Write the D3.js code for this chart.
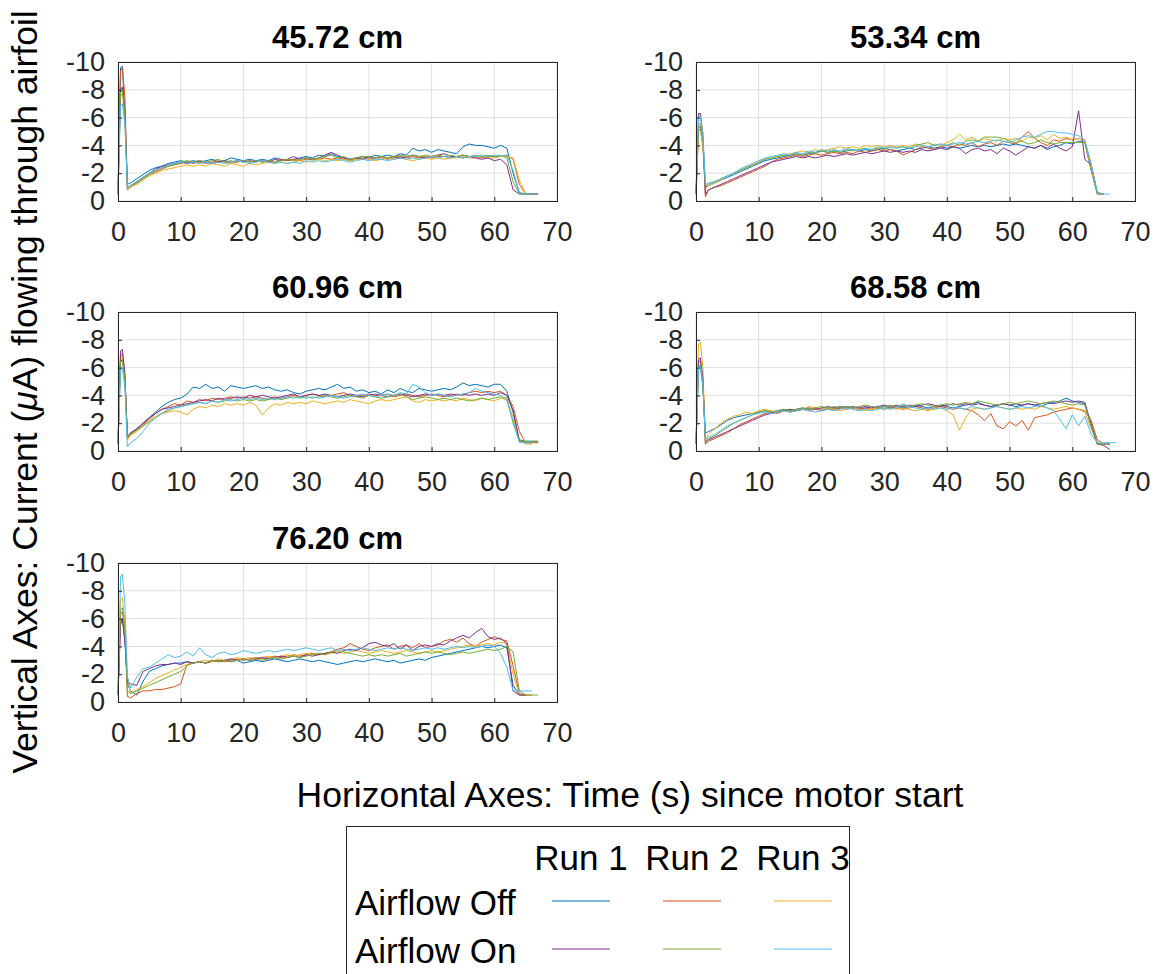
<!DOCTYPE html>
<html lang="en">
<head>
<meta charset="UTF-8">
<script src="https://cdn.jsdelivr.net/npm/d3@7"></script>
<title>Airfoil current vs time</title>
<style>
	body { margin: 0; background: #fff; }
	text { font-family: "Liberation Sans", Arial, sans-serif; }
	.tick text { fill: #262626; font-size: 27px; }
	.title { font-size: 31px; font-weight: bold; fill: #000; }
	.label { font-size: 35.5px; fill: #000; }
	.legend text { font-size: 35px; fill: #000; }
</style>
</head>
<body>
<script>
// sample times (s) shared by every run
const timeS = [0, 0.4, 0.7, 1.1, 1.5,
	2, 3, 4, 5, 6, 7, 8, 9, 10, 11, 12, 13, 14, 15, 16, 17, 18, 19, 20, 21,
	22, 23, 24, 25, 26, 27, 28, 29, 30, 31, 32, 33, 34, 35, 36, 37, 38, 39, 40, 41,
	42, 43, 44, 45, 46, 47, 48, 49, 50, 51, 52, 53, 54, 55, 56, 57, 58, 59, 60, 61,
	62, 63, 64, 65, 66, 67];

const titles = ["45.72 cm", "53.34 cm", "60.96 cm", "68.58 cm", "76.20 cm"];
const runNames = ["Run 1", "Run 2", "Run 3"];
const rowNames = ["Airflow Off", "Airflow On"];
const xTicks = [0, 10, 20, 30, 40, 50, 60, 70];
const yTicks = [0, -2, -4, -6, -8, -10];

// current in uA (null = run already stopped)
// --- 45.72 cm
const off1_4572 = [-0.5,-9.6,-9.7,-6,-1.2,
	-1.3,-1.6,-1.9,-2.2,-2.4,-2.5,-2.7,-2.8,-2.9,-2.8, -2.9,-2.8,-2.9,-3.0,-2.8,-2.9,-3.1,-3.0,-2.9,-3.0,
	-2.9,-3.0,-2.9,-3.1,-3.0,-2.9,-3.0,-3.1,-3.2,-3.1, -3.3,-3.2,-3.4,-3.2,-3.1,-3.0,-3.1,-3.2,-3.1,-3.3,
	-3.2,-3.3,-3.2,-3.4,-3.3,-3.8,-3.6,-3.7,-3.5,-3.7, -3.6,-3.5,-3.4,-3.9,-4.1,-4.0,-4.0,-3.9,-3.8,-4.0,
	-3.8,-2.0,-0.6,-0.5,-0.5,null];
const off2_4572 = [-0.5,-9.3,-9.6,-7.5,-0.8,
	-1.0,-1.3,-1.6,-1.9,-2.1,-2.3,-2.5,-2.6,-2.7,-2.8, -2.7,-2.8,-2.7,-2.8,-2.9,-2.8,-2.7,-2.8,-2.9,-2.8,
	-2.9,-2.8,-2.9,-2.8,-3.0,-2.9,-3.0,-2.9,-3.0,-3.0, -3.0,-3.1,-3.0,-3.1,-3.0,-2.9,-3.0,-3.1,-3.0,-3.1,
	-3.1,-3.0,-3.1,-3.2,-3.1,-3.2,-3.1,-3.2,-3.1,-3.2, -3.2,-3.1,-3.2,-3.3,-3.2,-3.2,-3.1,-3.2,-3.2,-3.2,
	-3.3,-3.0,-1.2,-0.5,-0.5,-0.5];
const off3_4572 = [-0.5,-7.5,-7.8,-5.8,-0.8,
	-1.0,-1.2,-1.5,-1.8,-2.0,-2.2,-2.3,-2.4,-2.5,-2.6, -2.5,-2.6,-2.5,-2.7,-2.6,-2.5,-2.7,-2.6,-2.5,-2.7,
	-2.6,-2.7,-2.8,-2.7,-2.8,-2.7,-2.8,-2.9,-2.8,-2.9, -3.0,-2.9,-3.0,-2.9,-3.0,-2.9,-3.0,-3.1,-3.0,-2.9,
	-3.0,-3.1,-3.0,-3.1,-3.0,-2.9,-3.0,-3.1,-3.0,-3.1, -3.0,-3.1,-3.1,-3.2,-3.1,-3.1,-3.2,-3.1,-3.1,-3.2,
	-3.2,-3.1,-1.5,-0.5,-0.5,-0.5];
const on1_4572 = [-0.5,-8.0,-8.2,-6.5,-0.9,
	-1.1,-1.4,-1.7,-2.0,-2.3,-2.5,-2.6,-2.7,-2.8,-2.7, -2.8,-2.9,-2.8,-2.7,-2.8,-2.9,-2.8,-2.9,-2.8,-2.9,
	-2.8,-2.9,-2.8,-3.0,-2.9,-3.0,-3.2,-3.0,-3.1,-3.0, -3.1,-3.3,-3.5,-3.3,-3.1,-3.0,-3.1,-3.0,-3.2,-3.1,
	-3.2,-3.1,-3.2,-3.1,-3.2,-3.3,-3.2,-3.1,-3.2,-3.3, -3.4,-3.2,-3.2,-3.1,-3.2,-3.1,-3.0,-3.1,-2.9,-3.0,
	-2.6,-0.8,-0.5,-0.5,-0.5,-0.5];
const on2_4572 = [-0.5,-7.8,-8.0,-6.2,-1.0,
	-1.1,-1.3,-1.6,-1.9,-2.2,-2.4,-2.5,-2.6,-2.8,-2.9, -2.8,-2.9,-2.8,-2.9,-3.0,-2.8,-2.9,-2.8,-2.9,-2.8,
	-2.9,-2.8,-2.9,-2.8,-2.9,-3.0,-2.9,-3.0,-3.1,-3.0, -3.1,-3.2,-3.3,-3.1,-3.2,-3.0,-3.1,-3.2,-3.2,-3.1,
	-3.2,-3.1,-3.2,-3.3,-3.2,-3.3,-3.2,-3.3,-3.2,-3.3, -3.2,-3.3,-3.2,-3.3,-3.2,-3.3,-3.2,-3.3,-3.2,-3.3,
	-3.1,-1.4,-0.5,-0.5,-0.5,null];
const on3_4572 = [-0.5,-6.8,-7.0,-5.5,-0.9,
	-1.1,-1.4,-1.7,-2.0,-2.2,-2.4,-2.6,-2.7,-2.8,-2.7, -2.8,-2.7,-2.8,-2.7,-2.8,-2.7,-2.8,-2.9,-2.8,-2.7,
	-2.8,-2.9,-2.8,-2.7,-2.8,-2.7,-2.8,-2.7,-2.9,-2.8, -2.9,-2.8,-2.9,-3.0,-2.9,-2.8,-2.9,-3.0,-2.9,-3.0,
	-3.0,-2.9,-3.0,-3.1,-3.0,-3.1,-3.0,-3.1,-3.2,-3.1, -3.2,-3.1,-3.2,-3.1,-3.2,-3.2,-3.3,-3.2,-3.3,-3.2,
	-3.3,-2.2,-0.6,-0.5,-0.5,-0.5];

// --- 53.34 cm
const off1_5334 = [-0.5,-5.0,-5.2,-4.0,-1.0,
	-1.1,-1.3,-1.5,-1.7,-1.9,-2.1,-2.3,-2.5,-2.7,-2.9, -3.0,-3.1,-3.2,-3.3,-3.4,-3.3,-3.4,-3.5,-3.6,-3.5,
	-3.6,-3.5,-3.6,-3.7,-3.6,-3.7,-3.6,-3.7,-3.8,-3.7, -3.6,-3.7,-3.8,-3.7,-3.8,-3.9,-3.8,-3.9,-3.8,-3.9,
	-3.8,-3.9,-4.0,-3.9,-4.0,-3.9,-4.0,-4.1,-4.0,-4.1, -4.0,-3.9,-3.8,-4.0,-3.7,-3.9,-4.0,-4.2,-4.1,-4.3,
	-4.2,-2.2,-0.5,-0.5,null,null];
const off2_5334 = [-0.5,-5.2,-5.4,-4.2,-0.3,
	-0.8,-1.0,-1.1,-1.3,-1.5,-1.7,-1.9,-2.1,-2.3,-2.5, -2.8,-3.0,-3.1,-3.2,-3.3,-3.2,-3.3,-3.4,-3.3,-3.4,
	-3.5,-3.4,-3.5,-3.4,-3.6,-3.5,-3.6,-3.7,-3.6,-3.7, -3.6,-3.3,-3.5,-3.7,-3.9,-3.8,-3.7,-3.9,-4.0,-3.9,
	-4.1,-4.0,-4.2,-3.9,-4.1,-4.2,-4.0,-4.3,-4.2,-4.1, -4.6,-5.0,-4.5,-4.2,-4.0,-4.4,-4.3,-4.5,-4.4,-4.5,
	-4.3,-2.4,-0.5,-0.5,null,null];
const off3_5334 = [-0.5,-5.0,-5.1,-4.0,-0.9,
	-1.1,-1.3,-1.5,-1.8,-2.0,-2.2,-2.4,-2.6,-2.8,-3.0, -3.1,-3.2,-3.3,-3.4,-3.5,-3.6,-3.5,-3.7,-3.6,-3.7,
	-3.8,-3.9,-3.8,-3.9,-3.8,-4.0,-3.9,-4.0,-3.9,-4.0, -3.9,-4.0,-3.9,-4.1,-4.0,-3.9,-4.1,-4.0,-4.2,-4.4,
	-4.8,-4.4,-4.6,-4.3,-4.5,-4.4,-4.3,-4.5,-4.4,-4.5, -4.3,-4.6,-4.5,-4.7,-4.4,-4.8,-4.5,-4.6,-4.4,-4.5,
	-4.3,-2.3,-0.5,-0.5,null,null];
const on1_5334 = [-0.5,-6.3,-6.3,-4.8,-0.5,
	-0.8,-1.0,-1.2,-1.4,-1.6,-1.8,-2.0,-2.2,-2.4,-2.6, -2.8,-2.9,-3.0,-3.1,-3.2,-3.1,-3.2,-3.1,-3.2,-3.3,
	-3.2,-3.3,-3.4,-3.3,-3.4,-3.5,-3.4,-3.5,-3.6,-3.5, -3.6,-3.5,-3.6,-3.5,-3.7,-3.6,-3.7,-3.8,-3.7,-3.9,
	-3.8,-3.4,-3.7,-3.8,-3.6,-3.7,-3.4,-3.8,-3.6,-3.3, -3.6,-3.9,-3.8,-4.0,-3.8,-4.1,-3.8,-3.6,-3.9,-6.5,
	-3.0,-2.6,-0.6,-0.5,null,null];
const on2_5334 = [-0.5,-5.5,-5.6,-4.4,-1.1,
	-1.2,-1.4,-1.6,-1.8,-2.0,-2.2,-2.4,-2.6,-2.8,-3.0, -3.1,-3.2,-3.3,-3.2,-3.4,-3.3,-3.5,-3.4,-3.6,-3.5,
	-3.6,-3.5,-3.7,-3.6,-3.7,-3.8,-3.7,-3.8,-3.7,-3.9, -3.8,-3.9,-3.8,-4.0,-4.1,-4.2,-4.0,-4.1,-4.0,-4.2,
	-4.0,-4.3,-4.4,-4.3,-4.6,-4.6,-4.6,-4.5,-4.3,-4.2, -4.3,-4.1,-4.2,-4.4,-4.2,-4.1,-4.2,-4.2,-4.2,-4.2,
	-4.2,-2.6,-0.6,-0.5,null,null];
const on3_5334 = [-0.5,-6.0,-6.1,-4.8,-1.2,
	-1.3,-1.4,-1.6,-1.8,-2.0,-2.3,-2.5,-2.7,-2.9,-3.1, -3.2,-3.3,-3.4,-3.3,-3.5,-3.4,-3.6,-3.5,-3.7,-3.6,
	-3.7,-3.6,-3.8,-3.7,-3.6,-3.8,-3.7,-3.9,-3.8,-3.9, -3.8,-3.9,-3.8,-3.9,-4.0,-3.9,-4.0,-4.1,-4.0,-4.1,
	-4.2,-4.1,-4.2,-4.3,-4.2,-4.3,-4.4,-4.3,-4.2,-4.4, -4.6,-4.7,-4.6,-4.8,-5.0,-5.0,-4.9,-4.9,-4.8,-4.7,
	-4.4,-2.7,-0.6,-0.5,-0.5,null];

// --- 60.96 cm
const off1_6096 = [-0.5,-6.4,-6.6,-5.0,-1.0,
	-1.3,-1.6,-2.0,-2.4,-2.8,-3.2,-3.5,-3.7,-3.8,-4.1, -4.6,-4.5,-4.8,-4.5,-4.6,-4.3,-4.7,-4.6,-4.5,-4.6,
	-4.7,-4.5,-4.6,-4.4,-4.3,-4.4,-4.2,-4.1,-4.3,-4.4, -4.5,-4.4,-4.6,-4.8,-4.5,-4.6,-4.3,-4.4,-4.2,-4.3,
	-4.1,-4.4,-4.2,-4.5,-4.3,-4.2,-4.5,-4.4,-4.3,-4.4, -4.5,-4.4,-4.6,-4.9,-4.7,-4.8,-4.7,-4.6,-4.8,-4.8,
	-4.3,-2.8,-0.8,-0.7,-0.7,-0.7];
const off2_6096 = [-0.5,-6.8,-7.0,-5.4,-0.9,
	-1.2,-1.5,-1.9,-2.3,-2.7,-3.0,-3.2,-3.4,-3.3,-3.6, -3.5,-3.7,-3.6,-3.8,-3.7,-3.8,-3.9,-3.8,-3.9,-3.8,
	-3.9,-3.8,-3.7,-3.9,-3.8,-3.9,-4.0,-3.9,-4.0,-4.1, -4.0,-3.9,-4.0,-4.1,-4.2,-4.0,-3.9,-4.0,-4.1,-4.0,
	-4.0,-4.1,-3.9,-4.0,-4.1,-4.0,-3.9,-4.0,-4.1,-4.0, -3.9,-4.0,-4.1,-4.0,-4.2,-4.3,-4.2,-4.3,-4.2,-4.3,
	-4.0,-3.2,-1.4,-0.6,-0.6,-0.6];
const off3_6096 = [-0.5,-6.6,-6.8,-5.2,-0.8,
	-1.1,-1.4,-1.8,-2.2,-2.5,-2.7,-2.8,-2.9,-2.8,-2.6, -3.0,-3.2,-3.1,-3.3,-3.2,-3.4,-3.3,-3.4,-3.3,-3.5,
	-3.3,-2.6,-3.1,-3.4,-3.3,-3.5,-3.4,-3.5,-3.4,-3.6, -3.5,-3.4,-3.5,-3.6,-3.5,-3.7,-3.6,-3.5,-3.4,-3.6,
	-3.7,-3.6,-3.7,-3.8,-3.9,-3.6,-3.5,-3.7,-3.6,-3.7, -3.6,-3.7,-3.6,-3.8,-3.7,-3.6,-3.8,-3.7,-3.6,-3.8,
	-3.7,-2.4,-0.8,-0.5,-0.5,null];
const on1_6096 = [-0.5,-7.2,-7.3,-5.6,-1.0,
	-1.3,-1.6,-2.0,-2.4,-2.7,-3.0,-3.1,-3.2,-3.3,-3.4, -3.5,-3.6,-3.7,-3.6,-3.8,-3.7,-3.8,-3.9,-3.8,-4.0,
	-3.9,-4.0,-3.9,-3.8,-3.9,-4.0,-4.1,-3.9,-4.0,-4.1, -4.0,-4.1,-4.0,-3.9,-4.0,-4.1,-4.0,-3.9,-4.0,-4.1,
	-4.0,-3.9,-4.0,-4.1,-4.0,-3.9,-4.0,-4.1,-4.0,-4.1, -4.0,-4.1,-4.0,-4.1,-4.0,-4.1,-4.0,-4.1,-4.0,-4.2,
	-4.0,-2.9,-0.7,-0.6,-0.6,null];
const on2_6096 = [-0.5,-6.4,-6.5,-5.2,-1.0,
	-1.2,-1.5,-1.8,-2.1,-2.4,-2.7,-2.9,-3.1,-3.2,-3.3, -3.4,-3.5,-3.4,-3.6,-3.5,-3.6,-3.7,-3.6,-3.7,-3.6,
	-3.7,-3.6,-3.7,-3.8,-3.7,-3.8,-3.9,-3.8,-3.9,-3.8, -3.9,-4.0,-3.9,-3.8,-3.9,-4.0,-3.9,-3.8,-4.0,-3.9,
	-3.8,-3.9,-4.0,-4.1,-3.9,-3.7,-3.8,-3.9,-3.8,-3.7, -3.8,-3.7,-3.8,-3.7,-3.6,-3.7,-3.8,-3.7,-3.8,-3.9,
	-3.8,-2.0,-0.7,-0.7,-0.7,-0.7];
const on3_6096 = [-0.5,-5.8,-6.0,-4.6,-0.3,
	-0.6,-0.9,-1.4,-2.0,-2.4,-2.7,-3.0,-3.1,-3.2,-3.3, -3.4,-3.5,-3.4,-3.6,-3.5,-3.7,-3.6,-3.7,-3.8,-3.7,
	-3.8,-3.7,-3.8,-3.7,-3.8,-3.9,-3.8,-3.9,-3.8,-3.9, -3.8,-3.9,-4.0,-3.9,-3.8,-3.9,-4.0,-4.1,-4.0,-3.9,
	-4.0,-4.1,-4.0,-4.2,-4.1,-4.8,-4.6,-4.2,-4.0,-4.1, -4.0,-3.9,-4.0,-4.1,-4.2,-4.5,-4.3,-4.2,-4.1,-4.0,
	-3.6,-2.2,-0.6,-0.6,-0.6,null];

// --- 68.58 cm
const off1_6858 = [-0.5,-6.0,-6.1,-4.6,-1.3,
	-1.4,-1.6,-1.9,-2.2,-2.4,-2.5,-2.6,-2.7,-2.8,-2.9, -2.8,-2.9,-3.0,-2.9,-3.0,-3.1,-3.0,-3.1,-3.0,-3.1,
	-3.0,-3.1,-3.2,-3.1,-3.0,-3.1,-3.2,-3.1,-3.2,-3.1, -3.2,-3.1,-3.2,-3.3,-3.2,-3.1,-3.2,-3.3,-3.2,-3.1,
	-3.2,-3.3,-3.4,-3.5,-3.3,-3.2,-3.3,-3.4,-3.3,-3.2, -3.3,-3.4,-3.3,-3.2,-3.4,-3.5,-3.6,-3.8,-3.6,-3.5,
	-3.4,-2.0,-0.5,-0.5,-0.5,null];
const off2_6858 = [-0.5,-6.4,-6.5,-5.0,-0.5,
	-0.7,-0.9,-1.1,-1.3,-1.6,-1.9,-2.1,-2.3,-2.5,-2.7, -2.8,-2.7,-2.9,-2.8,-2.9,-3.0,-2.9,-3.0,-2.9,-3.0,
	-3.0,-3.1,-3.0,-3.1,-3.0,-3.1,-3.0,-3.1,-3.0,-3.1, -3.1,-3.0,-3.1,-3.2,-3.1,-3.0,-3.1,-3.2,-3.1,-3.0,
	-3.1,-3.0,-2.9,-2.6,-2.2,-2.7,-1.8,-1.6,-2.1,-1.8, -2.2,-1.5,-2.4,-2.5,-2.6,-2.8,-2.9,-3.0,-3.1,-3.0,
	-2.9,-2.2,-0.8,-0.5,-0.5,null];
const off3_6858 = [-0.5,-7.7,-7.8,-6.0,-0.8,
	-1.2,-1.6,-2.0,-2.3,-2.5,-2.6,-2.8,-2.7,-2.9,-3.0, -2.9,-2.8,-2.9,-3.0,-2.9,-3.0,-3.2,-3.1,-3.0,-3.1,
	-3.0,-2.9,-3.0,-3.1,-3.0,-2.9,-3.0,-3.1,-3.0,-3.1, -3.0,-3.1,-3.0,-2.9,-3.0,-2.9,-3.0,-3.1,-2.9,-2.6,
	-1.5,-2.4,-3.0,-3.1,-3.0,-3.1,-3.2,-3.1,-3.0,-3.1, -3.0,-3.1,-3.0,-3.2,-3.1,-3.0,-3.1,-3.2,-3.1,-3.0,
	-2.8,-1.6,-0.6,-0.5,null,null];
const on1_6858 = [-0.5,-6.6,-6.7,-5.2,-0.6,
	-0.8,-1.0,-1.2,-1.4,-1.6,-1.8,-2.0,-2.2,-2.4,-2.6, -2.7,-2.8,-2.9,-3.0,-2.9,-3.0,-3.1,-3.0,-3.1,-3.2,
	-3.1,-3.2,-3.1,-3.2,-3.1,-3.2,-3.1,-3.2,-3.3,-3.2, -3.3,-3.2,-3.3,-3.2,-3.3,-3.4,-3.3,-3.2,-3.3,-3.4,
	-3.3,-3.4,-3.3,-3.4,-3.3,-3.2,-3.3,-3.4,-3.3,-3.4, -3.3,-3.4,-3.3,-3.4,-3.5,-3.4,-3.5,-3.6,-3.5,-3.6,
	-3.5,-1.8,-0.5,-0.4,-0.1,null];
const on2_6858 = [-0.5,-6.1,-6.2,-4.8,-0.7,
	-0.9,-1.1,-1.4,-1.7,-2.0,-2.2,-2.4,-2.6,-2.8,-2.9, -2.8,-2.9,-3.0,-2.9,-3.0,-3.1,-3.0,-3.1,-3.2,-3.1,
	-3.2,-3.1,-3.2,-3.1,-3.2,-3.3,-3.2,-3.1,-3.2,-3.3, -3.2,-3.3,-3.2,-3.3,-3.4,-3.3,-3.2,-3.3,-3.4,-3.3,
	-3.4,-3.5,-3.4,-3.6,-3.5,-3.4,-3.3,-3.4,-3.5,-3.4, -3.5,-3.6,-3.5,-3.4,-3.5,-3.6,-3.5,-3.4,-3.3,-3.4,
	-3.3,-1.8,-0.5,-0.5,null,null];
const on3_6858 = [-0.5,-6.0,-6.2,-4.8,-0.8,
	-1.0,-1.2,-1.5,-1.8,-2.0,-2.2,-2.4,-2.6,-2.7,-2.8, -2.7,-2.8,-2.9,-2.8,-2.9,-3.0,-2.9,-2.8,-2.9,-3.0,
	-2.9,-3.0,-3.1,-3.0,-2.9,-3.0,-2.9,-3.0,-3.1,-3.0, -3.1,-3.4,-3.2,-3.1,-3.0,-3.1,-3.0,-3.1,-3.0,-3.1,
	-3.1,-3.0,-3.2,-3.1,-3.0,-3.1,-3.2,-3.1,-3.0,-3.1, -3.2,-3.1,-3.2,-3.3,-3.1,-2.9,-2.3,-1.6,-2.6,-1.8,
	-2.5,-1.2,-0.6,-0.6,-0.6,-0.6];

// --- 76.20 cm
const off1_7620 = [-0.5,-5.8,-6.0,-4.5,-1.3,
	-0.8,-0.5,-1.5,-2.2,-2.4,-2.6,-2.7,-2.8,-2.8,-2.9, -2.8,-2.9,-2.8,-3.0,-2.9,-3.0,-2.9,-3.0,-2.8,-2.9,
	-3.0,-2.9,-3.0,-3.1,-3.0,-2.9,-3.0,-3.1,-3.0,-2.9, -3.0,-2.9,-2.8,-2.7,-2.8,-2.9,-3.0,-2.9,-3.0,-3.1,
	-3.0,-2.9,-3.0,-2.8,-2.9,-3.0,-3.1,-3.0,-3.2,-3.3, -3.4,-3.5,-3.6,-3.7,-3.8,-3.9,-4.0,-3.9,-4.0,-4.1,
	-3.9,-1.2,-0.5,-0.5,null,null];
const off2_7620 = [-0.5,-6.3,-6.5,-5.2,-0.4,
	-0.3,-0.6,-0.8,-0.8,-0.9,-0.9,-1.0,-1.1,-1.3,-2.7, -2.8,-2.9,-2.8,-2.9,-3.0,-2.9,-3.0,-3.1,-3.0,-3.1,
	-3.2,-3.1,-3.2,-3.3,-3.2,-3.3,-3.4,-3.3,-3.4,-3.5, -3.4,-3.5,-3.6,-3.8,-3.9,-4.2,-4.0,-3.8,-3.7,-3.9,
	-4.0,-4.1,-3.8,-4.0,-4.1,-3.9,-4.2,-3.9,-4.0,-4.1, -4.4,-4.5,-4.3,-4.6,-4.2,-4.0,-4.3,-4.5,-4.7,-4.5,
	-4.4,-2.6,-0.6,-0.5,-0.5,null];
const off3_7620 = [-0.5,-7.4,-7.5,-5.5,-1.8,
	-0.6,-0.9,-1.1,-1.4,-1.7,-1.9,-2.1,-2.3,-2.5,-2.7, -2.8,-2.9,-3.0,-2.9,-3.1,-3.0,-3.1,-3.2,-3.1,-3.2,
	-3.1,-3.2,-3.3,-3.2,-3.3,-3.4,-3.3,-3.4,-3.5,-3.4, -3.5,-3.4,-3.5,-3.6,-3.5,-3.6,-3.7,-3.6,-3.5,-3.6,
	-3.7,-3.6,-3.5,-3.6,-3.7,-3.6,-3.5,-3.6,-3.7,-3.6, -3.7,-3.8,-3.9,-4.0,-4.1,-4.0,-4.1,-4.2,-4.1,-4.3,
	-4.2,-2.0,-0.5,-0.5,null,null];
const on1_7620 = [-0.5,-5.5,-6.0,-4.3,-1.4,
	-1.3,-1.2,-2.2,-2.4,-2.6,-2.7,-2.7,-2.8,-2.7,-2.9, -2.8,-2.9,-2.8,-3.0,-2.9,-3.0,-3.1,-3.0,-3.1,-3.0,
	-3.1,-3.2,-3.1,-3.2,-3.3,-3.2,-3.3,-3.2,-3.4,-3.3, -3.4,-3.5,-3.6,-3.5,-3.7,-3.8,-3.7,-3.9,-4.2,-4.3,
	-4.1,-4.0,-4.2,-3.8,-4.1,-3.7,-4.0,-4.1,-4.0,-4.2, -4.1,-4.4,-4.6,-4.8,-4.6,-5.0,-5.3,-4.7,-4.5,-4.6,
	-4.2,-0.8,-0.5,-0.5,null,null];
const on2_7620 = [-0.5,-6.6,-6.8,-5.3,-0.8,
	-0.6,-0.8,-1.0,-1.2,-1.4,-1.6,-1.8,-2.0,-2.2,-2.6, -2.8,-2.9,-2.8,-3.0,-2.9,-3.0,-2.9,-3.0,-3.1,-3.0,
	-3.1,-3.0,-3.1,-3.2,-3.1,-3.2,-3.3,-3.2,-3.3,-3.4, -3.5,-3.4,-3.6,-3.7,-3.6,-3.5,-3.4,-3.3,-3.4,-3.3,
	-3.4,-3.3,-3.4,-3.5,-3.3,-3.4,-3.5,-3.6,-3.5,-3.6, -3.5,-3.4,-3.5,-3.6,-3.5,-3.6,-3.7,-3.8,-3.7,-3.8,
	-4.0,-3.6,-0.8,-0.5,-0.5,-0.5];
const on3_7620 = [-0.5,-9.0,-9.2,-7.0,-1.8,
	-1.0,-1.8,-2.4,-2.5,-2.8,-3.1,-3.4,-3.2,-3.3,-3.6, -3.3,-3.9,-3.4,-3.2,-3.5,-3.6,-3.4,-3.5,-3.7,-3.6,
	-3.5,-3.6,-3.7,-3.6,-3.7,-3.8,-3.7,-3.8,-3.9,-3.8, -3.7,-3.8,-3.9,-3.7,-3.8,-3.7,-3.8,-3.9,-3.8,-3.7,
	-3.8,-3.9,-3.8,-3.9,-3.8,-3.7,-3.8,-3.9,-3.8,-3.9, -3.8,-3.9,-4.0,-3.9,-4.0,-3.9,-4.0,-4.1,-4.0,-3.5,
	-2.5,-0.8,-0.8,-0.8,-0.8,null];

// order: off run1..3, on run1..3
const runColors = ["#0072BD", "#D95319", "#EDB120", "#7E2F8E", "#77AC30", "#4DBEEE"];

const panels = [
	{ title: titles[0], left: 118, top: 62,  runs: [off1_4572, off2_4572, off3_4572, on1_4572, on2_4572, on3_4572] },
	{ title: titles[1], left: 696, top: 62,  runs: [off1_5334, off2_5334, off3_5334, on1_5334, on2_5334, on3_5334] },
	{ title: titles[2], left: 118, top: 312, runs: [off1_6096, off2_6096, off3_6096, on1_6096, on2_6096, on3_6096] },
	{ title: titles[3], left: 696, top: 312, runs: [off1_6858, off2_6858, off3_6858, on1_6858, on2_6858, on3_6858] },
	{ title: titles[4], left: 118, top: 563, runs: [off1_7620, off2_7620, off3_7620, on1_7620, on2_7620, on3_7620] }
];
const pw = 439, ph = 139;

const svg = d3.select("body").append("svg")
	.attr("width", 1156)
	.attr("height", 974);

panels.forEach(function (p) {
	let x = d3.scaleLinear().domain([0, 70]).range([0, pw]),
		y = d3.scaleLinear().domain([0, -10]).range([ph, 0]);
	let g = svg.append("g").attr("transform", "translate(" + p.left + "," + p.top + ")");

	// grid
	g.selectAll(".gx").data(xTicks).enter().append("line")
		.attr("x1", d => x(d)).attr("x2", d => x(d))
		.attr("y1", 0).attr("y2", ph)
		.attr("stroke", "#dfdfdf").attr("stroke-width", 1);
	g.selectAll(".gy").data(yTicks).enter().append("line")
		.attr("x1", 0).attr("x2", pw)
		.attr("y1", d => y(d)).attr("y2", d => y(d))
		.attr("stroke", "#dfdfdf").attr("stroke-width", 1);

	// runs
	let line = d3.line()
		.defined(d => d[1] !== null)
		.x(d => x(d[0]))
		.y(d => y(d[1]));
	p.runs.forEach(function (vals, i) {
		if (vals.length !== timeS.length) console.warn(p.title, i, vals.length);
		g.append("path")
			.datum(timeS.map((t, k) => [t, vals[k]]))
			.attr("fill", "none")
			.attr("stroke", runColors[i])
			.attr("stroke-width", 1)
			.attr("stroke-linejoin", "round")
			.attr("d", line);
	});

	// axes
	let ax = g.append("g").attr("transform", "translate(0," + ph + ")")
		.call(d3.axisBottom(x).tickValues(xTicks).tickSizeInner(-4).tickSizeOuter(0).tickPadding(21).tickFormat(d => String(d)));
	let ay = g.append("g")
		.call(d3.axisLeft(y).tickValues(yTicks).tickSizeInner(-4).tickSizeOuter(0).tickPadding(13).tickFormat(d => String(d)));
	[ax, ay].forEach(a => {
		a.select(".domain").remove();
		a.selectAll(".tick line").attr("stroke", "#262626");
		a.attr("font-family", null).attr("font-size", null);
	});

	g.append("rect")
		.attr("x", 0.5).attr("y", 0.5)
		.attr("width", pw).attr("height", ph)
		.attr("fill", "none")
		.attr("stroke", "#262626")
		.attr("stroke-width", 1);

	g.append("text")
		.attr("class", "title")
		.attr("x", pw / 2)
		.attr("y", -14)
		.attr("text-anchor", "middle")
		.text(p.title);
});

// shared axis labels
let yl = svg.append("text")
	.attr("class", "label")
	.attr("text-anchor", "middle")
	.attr("transform", "translate(37,392) rotate(-90)");
yl.append("tspan").text("Vertical Axes: Current (");
yl.append("tspan").attr("font-style", "italic").text("\u03BC");
yl.append("tspan").text("A) flowing through airfoil");

svg.append("text")
	.attr("class", "label")
	.attr("text-anchor", "middle")
	.attr("x", 630)
	.attr("y", 807)
	.text("Horizontal Axes: Time (s) since motor start");

// legend
const lg = svg.append("g").attr("class", "legend");
lg.append("rect")
	.attr("x", 346.5).attr("y", 826.5)
	.attr("width", 503).attr("height", 200)
	.attr("fill", "#fff")
	.attr("stroke", "#262626")
	.attr("stroke-width", 1);
const colCenter = [581, 692, 803];
lg.selectAll(".run").data(runNames).enter().append("text")
	.attr("x", (d, i) => colCenter[i])
	.attr("y", 870)
	.attr("text-anchor", "middle")
	.text(d => d);
lg.selectAll(".row").data(rowNames).enter().append("text")
	.attr("x", 355)
	.attr("y", (d, i) => 915 + i * 48)
	.text(d => d);
runColors.forEach(function (c, i) {
	let row = Math.floor(i / 3), col = i % 3;
	lg.append("line")
		.attr("x1", colCenter[col] - 29).attr("x2", colCenter[col] + 29)
		.attr("y1", 901 + row * 48).attr("y2", 901 + row * 48)
		.attr("stroke", c)
		.attr("stroke-width", 1.2);
});
</script>
</body>
</html>
